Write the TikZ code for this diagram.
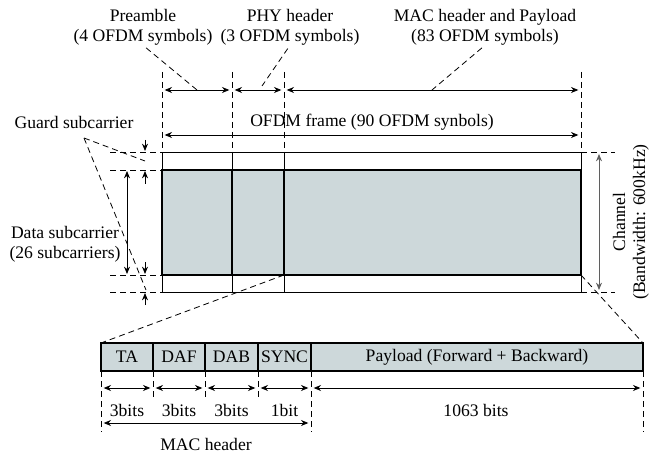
\documentclass[tikz,border=0pt]{standalone}
\usepackage{fontspec}
\setmainfont{Liberation Serif}
\usetikzlibrary{arrows.meta,positioning}
\definecolor{cellgrey}{RGB}{205,216,218}
\definecolor{changrey}{RGB}{95,95,95}
\tikzset{
  dimarrow/.style={{Stealth[length=5.5pt,width=4.5pt]}-{Stealth[length=5.5pt,width=4.5pt]},line width=0.7pt},
  onearrow/.style={-{Stealth[length=5.5pt,width=4.5pt]},line width=0.7pt},
  guide/.style={dash pattern=on 4.5pt off 3pt,line width=0.6pt},
  lbl/.style={font=\fontsize{13.2}{15}\selectfont,inner sep=0pt,align=center}
}
\begin{document}
\begin{tikzpicture}[x=0.75pt,y=-0.75pt]
\useasboundingbox (0,0) rectangle (660,456);

\foreach \x/\n in {162/0,232/1,284/2,581/3} {
  \coordinate (top\n) at (\x,72);
  \coordinate (seg\n) at (\x,90);
  \coordinate (frm\n) at (\x,135);
  \coordinate (fr\n) at (\x,152);
  \coordinate (sb\n) at (\x,170);
  \coordinate (sc\n) at (\x,275);
  \coordinate (fb\n) at (\x,292);
}

\fill[cellgrey] (sb0) rectangle (sc3);
\draw[line width=0.7pt] (fr0) rectangle (fb3);
\draw[line width=1.1pt] (sb0) rectangle (sc3);
\draw[line width=0.7pt] (fr1) -- (fb1) (fr2) -- (fb2);
\draw[line width=1.1pt] (sb1) -- (sc1) (sb2) -- (sc2);
\foreach \n in {0,...,3} \draw[guide] (top\n) -- (fr\n);

\draw[dimarrow,shorten <=2pt,shorten >=2pt] (seg0) -- (seg1);
\draw[dimarrow,shorten <=2pt,shorten >=2pt] (seg1) -- (seg2);
\draw[dimarrow,shorten <=2pt,shorten >=2pt] (seg2) -- (seg3);
\draw[dimarrow,shorten <=2pt,shorten >=2pt] (frm0) -- (frm3);

\node[lbl] (pre) at (143,27) {Preamble\\(4 OFDM symbols)};
\node[lbl] (phy) at (290,27) {PHY header\\(3 OFDM symbols)};
\node[lbl] (mac) at (485,27) {MAC header and Payload\\(83 OFDM symbols)};
\node[lbl] (frame) at (372,122) {OFDM frame (90 OFDM synbols)};
\coordinate (preend) at (197,90);
\coordinate (phyend) at (262,86);
\coordinate (macend) at (432,90);
\draw[guide,shorten <=3pt] (pre.south) -- (preend);
\draw[guide,shorten <=3pt] (phy.south) -- (phyend);
\draw[guide,shorten <=3pt] (mac.south) -- (macend);

\coordinate (la) at (110,152);
\coordinate (lb) at (110,170);
\coordinate (lc) at (110,275);
\coordinate (ld) at (110,292);
\draw[guide] (la) -- (fr0) (lb) -- (sb0) (lc) -- (sc0) (ld) -- (fb0);
\draw[onearrow] (145,140) -- (145,151);
\draw[onearrow] (145,184) -- (145,171);
\draw[onearrow] (145,262) -- (145,274);
\draw[onearrow] (145,305) -- (145,293);
\draw[dimarrow] (127,171) -- (127,274);

\node[lbl] (guard) at (74,122) {Guard subcarrier};
\node[lbl] (data) at (65,244) {Data subcarrier\\(26 subcarriers)};
\coordinate (gtip) at (84,138);
\coordinate (gtop) at (145,161);
\coordinate (gbot) at (146,290);
\draw[guide] (gtip) -- (gtop);
\draw[guide] (gtip) -- (gbot);

\coordinate (ra) at (615,152);
\coordinate (rd) at (615,292);
\draw[guide] (fr3) -- (ra);
\draw[guide] (fb3) -- (rd);
\draw[dimarrow,changrey] (599,154) -- (599,290);
\node[lbl,rotate=90] (chan) at (631,222) {Channel\\(Bandwidth: 600kHz)};

\foreach \x/\n/\l in {101/0/432,153/1/400,205/2/400,258/3/400,311/4/432,643/5/432} {
  \coordinate (bt\n) at (\x,343);
  \coordinate (bb\n) at (\x,371);
  \coordinate (d\n) at (\x,388);
  \coordinate (e\n) at (\x,423);
  \draw[guide] (bb\n) -- (\x,\l);
}
\draw[guide] (sc2) -- (bt0);
\draw[guide] (sc3) -- (bt5);
\fill[cellgrey] (bt0) rectangle (bb5);
\draw[line width=1.3pt] (bt0) rectangle (bb5);
\foreach \n in {1,...,4} \draw[line width=1.3pt] (bt\n) -- (bb\n);

\node[lbl] (ta) at (127,357) {TA};
\node[lbl] (daf) at (179,357) {DAF};
\node[lbl] (dab) at (231.5,357) {DAB};
\node[lbl] (sync) at (284.5,357) {SYNC};
\node[lbl] (pay) at (477,357) {Payload (Forward + Backward)};

\foreach \a/\b in {0/1,1/2,2/3,3/4,4/5}
  \draw[dimarrow,shorten <=2pt,shorten >=2pt] (d\a) -- (d\b);
\draw[dimarrow,shorten <=2pt,shorten >=2pt] (e0) -- (e4);

\node[lbl] (bta) at (127,410) {3bits};
\node[lbl] (bdaf) at (179,410) {3bits};
\node[lbl] (bdab) at (231.5,410) {3bits};
\node[lbl] (bsync) at (284.5,410) {1bit};
\node[lbl] (bpay) at (476,410) {1063 bits};
\node[lbl] (machdr) at (206,444) {MAC header};
\end{tikzpicture}
\end{document}
